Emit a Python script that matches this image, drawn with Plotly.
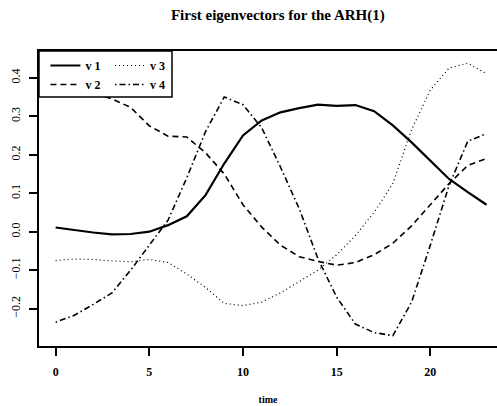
import plotly.graph_objects as go

time = list(range(24))
v1 = [0.011, 0.004, -0.002, -0.007, -0.006, 0.0, 0.017, 0.040, 0.095, 0.177, 0.250, 0.289,
      0.310, 0.321, 0.330, 0.327, 0.329, 0.313, 0.276, 0.232, 0.185, 0.137, 0.103, 0.070]
v2 = [0.370, 0.368, 0.360, 0.345, 0.323, 0.275, 0.248, 0.246, 0.205, 0.150, 0.070, 0.012,
      -0.035, -0.065, -0.077, -0.087, -0.080, -0.060, -0.030, 0.015, 0.070, 0.125, 0.172, 0.190]
v3 = [-0.075, -0.071, -0.072, -0.076, -0.078, -0.072, -0.080, -0.110, -0.145, -0.186, -0.192, -0.183,
      -0.159, -0.130, -0.100, -0.060, -0.010, 0.050, 0.125, 0.265, 0.368, 0.425, 0.438, 0.410]
v4 = [-0.235, -0.217, -0.189, -0.159, -0.100, -0.035, 0.030, 0.140, 0.260, 0.350, 0.330, 0.270,
      0.168, 0.060, -0.070, -0.170, -0.240, -0.262, -0.270, -0.183, -0.035, 0.120, 0.235, 0.255]

x_ticks = [0, 5, 10, 15, 20]
y_ticks = [-0.2, -0.1, 0.0, 0.1, 0.2, 0.3, 0.4]
y_tick_labels = ["\u22120.2", "\u22120.1", "0.0", "0.1", "0.2", "0.3", "0.4"]

FONT = "Liberation Serif"

fig = go.Figure()
fig.add_trace(go.Scatter(x=time, y=v1, mode="lines", name="v 1", legend="legend",
                         line=dict(color="black", width=2.2)))
fig.add_trace(go.Scatter(x=time, y=v2, mode="lines", name="v 2", legend="legend",
                         line=dict(color="black", width=1.6, dash="6px,4px")))
fig.add_trace(go.Scatter(x=time, y=v3, mode="lines", name="v 3", legend="legend2",
                         line=dict(color="black", width=1.2, dash="1px,3px")))
fig.add_trace(go.Scatter(x=time, y=v4, mode="lines", name="v 4", legend="legend2",
                         line=dict(color="black", width=1.6, dash="1.5px,3px,6px,3px")))

legend_common = dict(font=dict(family=FONT, size=12, color="black", weight="bold"),
                     bgcolor="rgba(0,0,0,0)", borderwidth=0, yanchor="top", xanchor="left",
                     tracegroupgap=0, itemwidth=30)

fig.update_layout(
    width=497, height=406,
    margin=dict(l=39, r=0, t=51, b=60),
    paper_bgcolor="white", plot_bgcolor="white",
    title=dict(text="First eigenvectors for the ARH(1)", x=0.559, xanchor="center",
               y=1 - 15 / 406, yanchor="middle", xref="container", yref="container",
               font=dict(family=FONT, size=15, color="black", weight="bold")),
    showlegend=True,
    legend=dict(x=0.014, y=1.0, **legend_common),
    legend2=dict(x=0.155, y=1.0, **legend_common),
    xaxis=dict(range=[-0.89, 23.56], showgrid=False, zeroline=False,
               showline=True, linecolor="black", linewidth=2, mirror=True,
               ticks="outside", ticklen=8, tickwidth=1.5, tickcolor="black",
               tickvals=x_ticks, ticklabelstandoff=6,
               tickfont=dict(family=FONT, size=12, color="black", weight="bold"),
               title=dict(text="time", standoff=18,
                          font=dict(family=FONT, size=10, color="black", weight="bold"))),
    yaxis=dict(range=[-0.2969, 0.4694], showgrid=False, zeroline=False,
               showline=True, linecolor="black", linewidth=2,
               ticks="outside", ticklen=8, tickwidth=1.5, tickcolor="black",
               tickvals=y_ticks, ticktext=y_tick_labels, tickangle=-90, ticklabelstandoff=4,
               tickfont=dict(family=FONT, size=12, color="black")),
    shapes=[dict(type="rect", xref="paper", yref="paper", x0=0.0, x1=133 / 458, y0=1.0,
                 y1=1 - 46 / 295, layer="above", fillcolor="white",
                 line=dict(color="black", width=1.5))],
)

fig.write_html("out.html")
